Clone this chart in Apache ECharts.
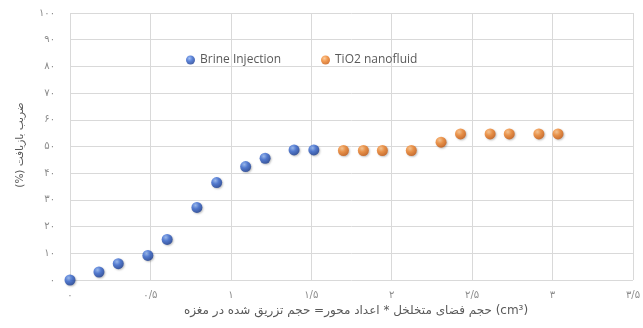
<!DOCTYPE html>
<html>
<head>
<meta charset="utf-8">
<script src="https://cdn.jsdelivr.net/npm/echarts@6/dist/echarts.min.js"></script>
<style>
  html, body { margin: 0; padding: 0; background: #fff; }
  #chart { width: 643px; height: 328px; }
</style>
</head>
<body>
<div id="chart"></div>
<script>
// Injected pore volume (cm3) and recovery factor (%)
const brineX = [0, 0.18, 0.30, 0.484, 0.604, 0.789, 0.912, 1.092, 1.213, 1.393, 1.516];
const brineY = [0, 3, 6.1, 9.2, 15.2, 27.2, 36.5, 42.5, 45.6, 48.7, 48.7];
const nanoX = [1.70, 1.824, 1.942, 2.122, 2.307, 2.428, 2.612, 2.731, 2.915, 3.034];
const nanoY = [48.5, 48.5, 48.5, 48.5, 51.6, 54.7, 54.7, 54.7, 54.7, 54.7];
const seriesNames = ['Brine Injection', 'TiO2 nanofluid'];
// Persian titles; unit placed so it sits on the reading-start (right) side
const xTitle = 'حجم فضای متخلخل * اعداد محور= حجم تزریق شده در مغزه (cm³)';
const yTitle = '(%) ضریب بازیافت';

const faDigits = '۰۱۲۳۴۵۶۷۸۹';
function toFa(v) {
  return String(v).replace('.', '/').replace(/[0-9]/g, d => faDigits[+d]);
}

function ball(light, mid, dark) {
  return {
    type: 'radial', x: 0.38, y: 0.32, r: 0.7,
    colorStops: [
      { offset: 0, color: light },
      { offset: 0.45, color: mid },
      { offset: 1, color: dark }
    ]
  };
}

const chart = echarts.init(document.getElementById('chart'), null, { renderer: 'canvas' });
const font = 'DejaVu Sans, Noto Sans, sans-serif';

chart.setOption({
  animation: false,
  backgroundColor: '#ffffff',
  textStyle: { fontFamily: font },
  grid: { left: 70, right: 4, top: 13, bottom: 48, containLabel: false },
  legend: {
    left: 181, top: 49,
    icon: 'circle', itemWidth: 9, itemHeight: 9, itemGap: 40,
    textStyle: { color: '#595959', fontSize: 12, fontFamily: 'Open Sans, Noto Sans, sans-serif' },
    data: seriesNames
  },
  xAxis: {
    type: 'value', min: 0, max: 3.5, interval: 0.5,
    axisLine: { show: false }, axisTick: { show: false },
    splitLine: { lineStyle: { color: '#d9d9d9', width: 1 } },
    axisLabel: { color: '#8c8c8c', fontSize: 10, margin: 10, formatter: toFa }
  },
  yAxis: {
    type: 'value', min: 0, max: 100, interval: 10,
    axisLine: { show: false }, axisTick: { show: false },
    splitLine: { lineStyle: { color: '#d9d9d9', width: 1 } },
    axisLabel: { color: '#8c8c8c', fontSize: 10, margin: 15, formatter: toFa }
  },
  graphic: [
    {
      type: 'text', x: 356, y: 311,
      style: { text: xTitle, fill: '#595959', fontSize: 12, fontFamily: font, align: 'center', verticalAlign: 'middle' }
    },
    {
      type: 'text', x: 20, y: 145, rotation: Math.PI / 2,
      style: { text: yTitle, fill: '#595959', fontSize: 10.5, fontFamily: font, align: 'center', verticalAlign: 'middle' }
    }
  ],
  series: [
    {
      name: seriesNames[0], type: 'scatter', symbol: 'circle', symbolSize: 11,
      data: brineX.map((x, i) => [x, brineY[i]]),
      itemStyle: {
        color: ball('#8fb4f2', '#3566d0', '#173a90'),
        shadowColor: 'rgba(0,0,0,0.3)', shadowBlur: 2, shadowOffsetX: 1, shadowOffsetY: 1
      },
      z: 3
    },
    {
      name: seriesNames[1], type: 'scatter', symbol: 'circle', symbolSize: 11,
      data: nanoX.map((x, i) => [x, nanoY[i]]),
      itemStyle: {
        color: ball('#fcc185', '#f0842a', '#c8580c'),
        shadowColor: 'rgba(0,0,0,0.3)', shadowBlur: 2, shadowOffsetX: 1, shadowOffsetY: 1
      },
      z: 3
    }
  ]
});
</script>
</body>
</html>
